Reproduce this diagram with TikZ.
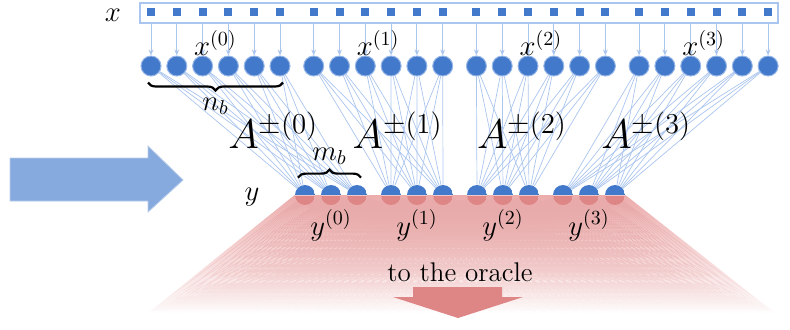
\documentclass[tikz,border=0pt]{standalone}
\usetikzlibrary{positioning,calc,decorations.pathreplacing,fadings,backgrounds,arrows.meta}
\definecolor{nodeblue}{RGB}{66,121,202}
\definecolor{edgeblue}{RGB}{150,182,232}
\definecolor{linkblue}{RGB}{170,197,238}
\definecolor{nodered}{RGB}{222,133,133}
\definecolor{fanred}{RGB}{236,172,172}
\definecolor{arrowblue}{RGB}{135,170,222}
\tikzset{
  lbl/.style={font=\fontsize{14}{16}\selectfont, inner sep=1pt},
  biglbl/.style={font=\fontsize{21}{24}\selectfont, inner sep=1pt},
  xsq/.style={fill=nodeblue, minimum size=4pt, inner sep=0pt},
  xnode/.style={circle, fill=nodeblue, draw=edgeblue, line width=0.5pt, minimum size=10pt, inner sep=0pt},
  ynode/.style={circle, minimum size=10pt, inner sep=0pt,
    path picture={
      \fill[nodeblue] (path picture bounding box.west) rectangle (path picture bounding box.north east);
      \fill[nodered] (path picture bounding box.west) rectangle (path picture bounding box.south east);
      \draw[white!55!nodered, line width=0.4pt] (path picture bounding box.west) -- (path picture bounding box.east);
    }},
  feed/.style={linkblue, line width=0.5pt, -{Stealth[length=3pt, width=2.4pt]}},
  link/.style={linkblue, line width=0.35pt},
  fanline/.style={nodered!70!white, line width=0.25pt},
  grpbrace/.style={decorate, decoration={brace, amplitude=4pt}, line width=1.1pt},
}
\begin{document}
\begin{tikzpicture}[x=0.5pt, y=-0.5pt]
  \useasboundingbox (0,0) rectangle (790,329);
  % input vector
  \node[draw=linkblue, line width=0.6pt, minimum width=319pt, minimum height=10pt, inner sep=0pt] (xbox) at (459,13) {};
  \node[lbl] (xlab) at (113,15) {$x$};
  \foreach \g in {0,...,3} {
    \foreach \i in {0,...,5} {
      \node[xsq] (xsq-\g-\i) at ({151+162.7*\g+25.8*\i}, 12) {};
      \node[xnode] (xc-\g-\i) at ({151+162.7*\g+25.8*\i}, 66) {};
      \draw[feed] (xsq-\g-\i |- xbox.south) -- (xc-\g-\i);
    }
    \coordinate (xg-\g) at ($(xc-\g-2)!0.5!(xc-\g-3)$);
    \node[lbl] (xl-\g) at ($(xg-\g)+(0,-23)$) {$x^{(\g)}$};
    % output blocks
    \foreach \j in {0,1,2}
      \node[ynode] (yn-\g-\j) at ({305+86*\g+26*\j}, 195) {};
    \coordinate (yg-\g) at (yn-\g-1);
    \node[lbl, below=1pt of yn-\g-1] (yl-\g) {$y^{(\g)}$};
    \node[biglbl] (al-\g) at ($(xg-\g)!0.5!(yg-\g)$) {$A^{\pm(\g)}$};
  }
  \node[lbl] (ylab) at (252,197) {$y$};
  % fan towards the oracle
  \foreach \k in {0,...,60}
    \coordinate (fb-\k) at ({148+\k*10.45}, 313);
  \begin{scope}[on background layer]
    \foreach \g in {0,...,3}
      \foreach \i in {0,...,5}
        \foreach \j in {0,1,2}
          \draw[link] (xc-\g-\i) -- (yn-\g-\j);
    \shade[top color=fanred, middle color=fanred!55!white, bottom color=white]
      (yn-0-0.west) -- (yn-3-2.east) -- (fb-60) -- (fb-0) -- cycle;
    \draw[fanline, path fading=south]
      foreach \g in {0,...,3} {foreach \j in {0,1,2} {foreach \k in {0,...,60} {(yn-\g-\j) -- (fb-\k)}}};
  \end{scope}
  % braces
  \draw[grpbrace, decoration={mirror}] ($(xc-0-0.south)+(-3,6)$) -- node[lbl, below=6pt] (nb) {$n_b$} ($(xc-0-5.south)+(3,6)$);
  \draw[grpbrace] ($(yn-0-0.north)+(-7,-7)$) -- node[lbl, above=5pt] (mb) {$m_b$} ($(yn-0-2.north)+(4,-7)$);
  % arrows
  \fill[arrowblue, draw=arrowblue!60!white, line width=0.4pt]
    (10,158) -- (148,158) -- (148,146) -- (183,180) -- (148,212) -- (148,201) -- (10,201) -- cycle;
  \fill[nodered]
    (413,287) -- (502,287) -- (502,297) -- (523,297) -- (458,318) -- (393,297) -- (413,297) -- cycle;
  \node[font=\fontsize{13.5}{16}\selectfont, inner sep=1pt] (oracle) at (460,272) {to the oracle};
\end{tikzpicture}
\end{document}
